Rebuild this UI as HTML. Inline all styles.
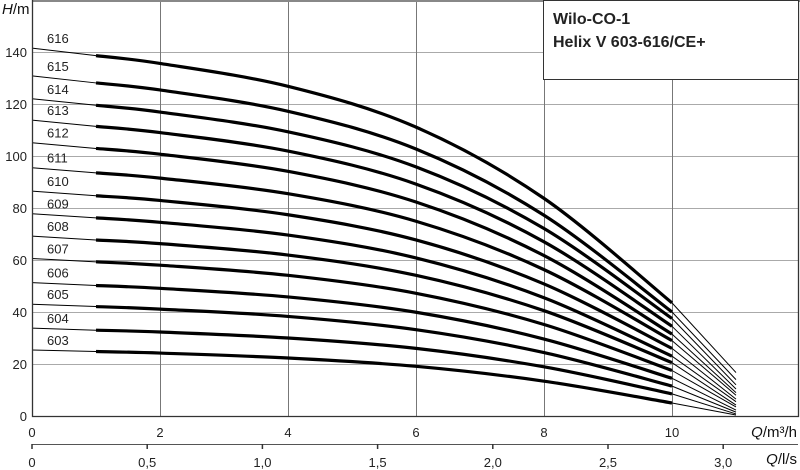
<!DOCTYPE html>
<html><head><meta charset="utf-8"><style>
body{margin:0;background:#fff}
svg{display:block;font-family:"Liberation Sans",sans-serif}
</style></head><body>
<svg width="800" height="470" viewBox="0 0 800 470">
<g id="grid"></g>
<g id="curves"></g>
<g id="axes"></g>
<g>
<rect x="543.5" y="0.5" width="255" height="79" fill="#fff" stroke="#333" stroke-width="1"/>
<text x="553" y="24" font-size="16" font-weight="bold" fill="#222">Wilo-CO-1</text>
<text x="553" y="47" font-size="16" font-weight="bold" fill="#222">Helix V 603-616/CE+</text>
</g>
</svg>
<script>
const qPoints = [0,1,2,4,6,8,10,11];
const curveNames = ["616","615","614","613","612","611","610","609","608","607","606","605","604","603"];
const h616 = [141.5,138.6,135.6,126.8,111.1,83.7,43.5,16.7];
const h615 = [130.8,128.1,125.4,117.2,102.7,77.2,40,14];
const h614 = [122,119.5,116.9,109.3,95.8,72.1,37.5,12];
const h613 = [113.8,111.4,109.0,101.9,89.2,67.0,34.5,10.4];
const h612 = [105.1,102.9,100.7,94.1,82.3,61.7,31.5,9];
const h611 = [95.5,93.5,91.5,85.5,74.9,56.3,29,8];
const h610 = [86.5,84.7,82.9,77.4,67.7,50.8,26,6.5];
const h609 = [77.8,76.2,74.5,69.6,60.8,45.5,23,5.5];
const h608 = [69.2,67.7,66.3,61.9,54.1,40.5,20.5,4.2];
const h607 = [60.6,59.3,58.0,54.1,47.2,35.2,17.5,3.5];
const h606 = [51.3,50.2,49.1,45.8,39.9,29.6,14.5,2.3];
const h605 = [43,42.1,41.1,38.3,33.2,24.4,11.5,1.5];
const h604 = [33.8,33.0,32.3,30.0,26.0,18.9,8.5,0.8];
const h603 = [25.4,24.8,24.2,22.3,19.1,13.4,5,0.4];
const curveValues = [h616,h615,h614,h613,h612,h611,h610,h609,h608,h607,h606,h605,h604,h603];
const yTicks = [0,20,40,60,80,100,120,140];
const xTicks = [0,2,4,6,8,10];
const xTickLabels = ["0","2","4","6","8","10"];
const lsTicks = [0,0.5,1.0,1.5,2.0,2.5,3.0];
const lsTickLabels = ["0","0,5","1,0","1,5","2,0","2,5","3,0"];

const NS="http://www.w3.org/2000/svg";
const X0=32,PX=64,Y0=416,PY=2.6;
const xs=q=>X0+q*PX, ys=h=>Y0-h*PY;
function mk(tag,attrs,parent){const e=document.createElementNS(NS,tag);for(const k in attrs)e.setAttribute(k,attrs[k]);parent.appendChild(e);return e;}
const gridG=document.getElementById('grid'),curvesG=document.getElementById('curves'),axesG=document.getElementById('axes');

yTicks.forEach(v=>{ if(v===0) return;
 const l=mk('line',{x1:X0,x2:798,y1:ys(v)+0.5,y2:ys(v)+0.5,stroke:'#aaa','stroke-width':1},gridG);
 
 
});
xTicks.forEach(v=>{ if(v===0) return;
 const l=mk('line',{x1:xs(v)+0.5,x2:xs(v)+0.5,y1:0,y2:Y0,stroke:'#777','stroke-width':1},gridG);
 
 
});
const topBorder=mk('line',{x1:X0,x2:800,y1:1,y2:1,stroke:'#888','stroke-width':2},gridG);



function pathFor(qs,hs){
 const pts=qs.map((q,i)=>[xs(q),ys(hs[i])]);
 let d='M'+pts[0][0]+','+pts[0][1];
 for(let i=0;i<pts.length-1;i++){
  const p0=pts[Math.max(0,i-1)],p1=pts[i],p2=pts[i+1],p3=pts[Math.min(pts.length-1,i+2)];
  const c1=[p1[0]+(p2[0]-p0[0])/6,p1[1]+(p2[1]-p0[1])/6];
  const c2=[p2[0]-(p3[0]-p1[0])/6,p2[1]-(p3[1]-p1[1])/6];
  d+=` C${c1[0]},${c1[1]} ${c2[0]},${c2[1]} ${p2[0]},${p2[1]}`;
 }
 return d;
}
curveValues.forEach((hs,ci)=>{
 const g=mk('g',{},curvesG);
 
 
 const thin=mk('path',{d:'M'+xs(qPoints[0])+','+ys(hs[0])+' L'+xs(qPoints[1])+','+ys(hs[1])+' M'+xs(qPoints[6])+','+ys(hs[6])+' L'+xs(qPoints[7])+','+ys(hs[7]),fill:'none',stroke:'#000','stroke-width':1},g);
 
 
 const thick=mk('path',{d:pathFor(qPoints.slice(1,7),hs.slice(1,7)),fill:'none',stroke:'#000','stroke-width':3.2},g);
 
 
 const t=mk('text',{x:47,y:ys(hs[0])-5,'font-size':13,fill:'#222'},g);
 t.textContent=curveNames[ci];
 
 
});

const frame=mk('path',{d:`M${X0+0.5},0 V${Y0+0.5} H798.5 V0`,fill:'none',stroke:'#333','stroke-width':1.3},axesG);


yTicks.forEach(v=>{
 const t=mk('text',{x:27,y:ys(v)+5,'font-size':13,'text-anchor':'end',fill:'#222'},axesG);
 t.textContent=String(v);
 
 
});
xTicks.forEach((v,i)=>{
 const t=mk('text',{x:xs(v),y:437,'font-size':13,'text-anchor':'middle',fill:'#222'},axesG);
 t.textContent=xTickLabels[i];
 
 
});
const secAxis=mk('line',{x1:X0,x2:798,y1:444.5,y2:444.5,stroke:'#555','stroke-width':1},axesG);


lsTicks.forEach((v,i)=>{
 const x=xs(v*3.6);
 const tk=mk('line',{x1:x,x2:x,y1:444,y2:449,stroke:'#333','stroke-width':1.5},axesG);
 
 
 const t=mk('text',{x:x,y:467,'font-size':13,'text-anchor':'middle',fill:'#222'},axesG);
 t.textContent=lsTickLabels[i];
 
 
});
</script>
<div style="position:absolute;left:0;top:0;width:800px;height:470px;pointer-events:none;font-family:'Liberation Sans',sans-serif;font-size:15px;color:#111">
<div style="position:absolute;left:2px;top:1px"><i>H</i>/m</div>
<div style="position:absolute;right:3px;top:424px"><i>Q</i>/m³/h</div>
<div style="position:absolute;right:3px;top:451px"><i>Q</i>/l/s</div>
</div>
</body></html>
